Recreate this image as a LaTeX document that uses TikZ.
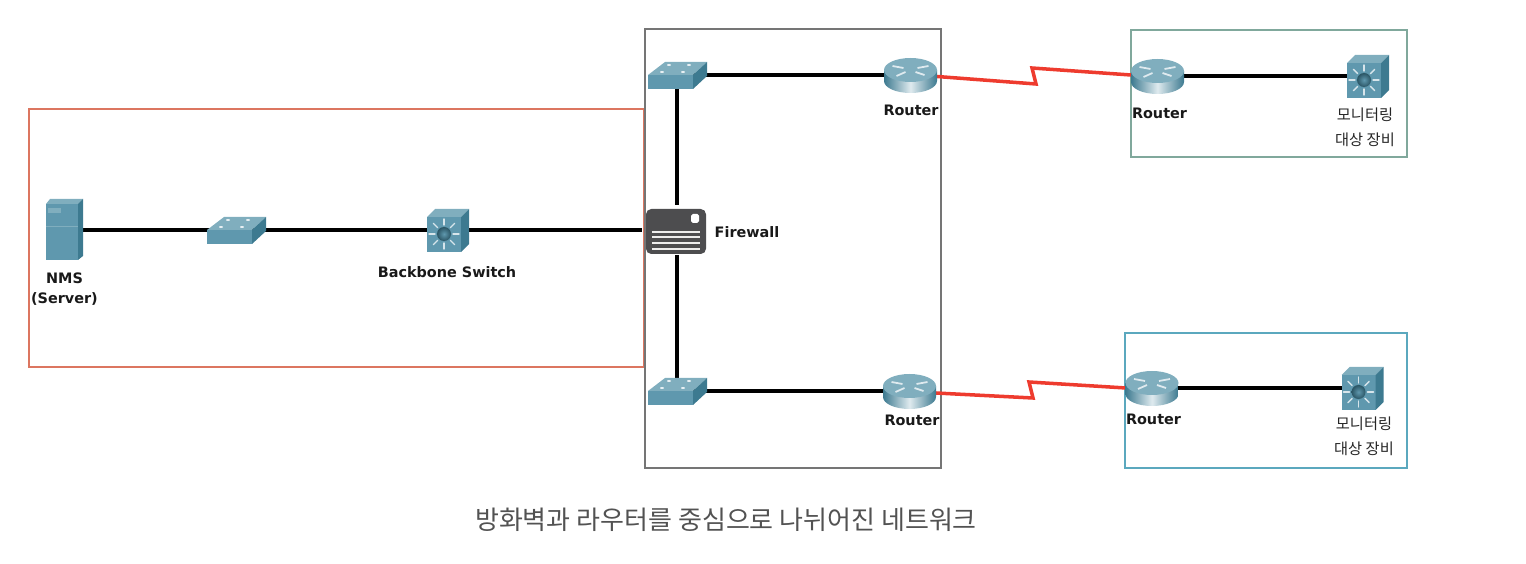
\documentclass[tikz,border=0pt]{standalone}
\usepackage{fontspec}
\setmainfont{DejaVu Sans}
\newfontfamily\krfont{Noto Sans CJK KR}

\definecolor{frontblue}{HTML}{5F98AE}
\definecolor{topblue}{HTML}{80AEBE}
\definecolor{sideblue}{HTML}{3D7A90}
\definecolor{linkred}{HTML}{EE3B2E}
\definecolor{redbox}{HTML}{DC7660}
\definecolor{greybox}{HTML}{757575}
\definecolor{greenbox}{HTML}{80A89C}
\definecolor{cyanbox}{HTML}{5BA8BE}
\definecolor{fwgrey}{HTML}{4D4D4F}

\def\unitpx{0.02cm}

\tikzset{
  slot/.style 2 args={inner sep=0pt,minimum width=#1*\unitpx,minimum height=#2*\unitpx},
  area/.style n args={4}{draw=#1,line width=#4,inner sep=0pt,minimum width=#2*\unitpx,minimum height=#3*\unitpx},
  cable/.style={line width=2.1pt,black},
  wan/.style={line width=2pt,linkred},
  label/.style={font=\bfseries\fontsize{8.2}{11.5}\selectfont,inner sep=0pt,align=center,text=black!90},
  krlabel/.style={font=\krfont\fontsize{8.7}{14}\selectfont,inner sep=0pt,align=center,text=black!85},
  pics/servericon/.style={code={
    \fill[frontblue] (-18,-26) rectangle (14,30);
    \fill[topblue] (-18,-26) -- (-14,-31) -- (19,-31) -- (14,-26) -- cycle;
    \fill[sideblue] (14,-26) -- (19,-31) -- (19,26) -- (14,30) -- cycle;
    \fill[topblue] (-16,-22) rectangle (-3,-17);
    \draw[topblue,line width=0.4pt] (-18,-4) -- (14,-4);
  }},
  pics/switchicon/.style={code={
    \fill[frontblue] (-29,0) rectangle (16,14);
    \fill[topblue] (-29,0) -- (-12,-13) -- (30,-13) -- (16,0) -- cycle;
    \fill[sideblue] (16,0) -- (30,-13) -- (30,1) -- (16,14) -- cycle;
    \foreach \px/\py in {-15/-3,-8/-10,6/-3,12/-10}
      \fill[white!85!frontblue] (\px,\py) circle [x radius=2,y radius=1];
  }},
  pics/coreicon/.style={code={
    \fill[frontblue] (-21,-13) rectangle (13,22);
    \fill[topblue] (-21,-13) -- (-13,-21) -- (21,-21) -- (13,-13) -- cycle;
    \fill[sideblue] (13,-13) -- (21,-21) -- (21,14) -- (13,22) -- cycle;
    \foreach \ang in {0,45,...,315}
      \draw[white!75!frontblue,line width=0.8pt,line cap=round] (-4,4) ++(\ang:9) -- ++(\ang:6);
    \shade[inner color=frontblue,outer color=sideblue!70!black] (-4,4) circle [radius=7];
  }},
  pics/routericon/.style={code={
    \shade[left color=sideblue,right color=sideblue,middle color=white!80!frontblue]
      (-26.5,-5) -- (-26.5,6) arc [start angle=180,end angle=0,x radius=26.5,y radius=12]
      -- (26.5,-5) -- cycle;
    \fill[topblue] (0,-5) ellipse [x radius=26.5,y radius=12];
    \draw[white!80!frontblue,line width=1pt]
      (-18,-9) -- (-7,-7) (18,-9) -- (7,-7) (-14,1) -- (-5,-3) (14,0) -- (5,-3);
  }},
  pics/firewallicon/.style={code={
    \fill[fwgrey,rounded corners=3] (-31,-21) rectangle (29,24);
    \fill[white,rounded corners=1] (14,-16) rectangle (22,-7);
    \foreach \py in {2,7,13,19}
      \draw[white!90!fwgrey,line width=0.9pt] (-25,\py) -- (23,\py);
  }},
}

\begin{document}
\begin{tikzpicture}[x=0.02cm,y=-0.02cm]

\useasboundingbox (0,0) rectangle (1526,564);

\node[slot={10}{10}] (nms) at (64,230) {};
\node[slot={10}{10}] (swa) at (236,230) {};
\node[slot={10}{10}] (core) at (448,230) {};
\node[slot={70}{50}] (fw) at (677,230) {};
\node[slot={10}{10}] (swb) at (677,75) {};
\node[slot={10}{10}] (swc) at (677,391) {};
\node[slot={10}{10}] (rta) at (910.5,75) {};
\node[slot={10}{10}] (rtb) at (909.5,391) {};
\node[slot={10}{10}] (rtc) at (1157.5,76) {};
\node[slot={10}{10}] (rtd) at (1152,388) {};
\node[slot={10}{10}] (corea) at (1368,76) {};
\node[slot={10}{10}] (coreb) at (1362.5,388) {};

\coordinate (ena) at (937,76.5);
\coordinate (enb) at (936,393);
\coordinate (enc) at (1131,75);
\coordinate (end) at (1126,388);
\coordinate (kinka) at (1036,84);
\coordinate (kinkb) at (1032,68);
\coordinate (kinkc) at (1033,398);
\coordinate (kinkd) at (1029,382);

\node[area={redbox}{615}{258}{0.7pt}] (lan) at (336.5,238) {};
\node[area={greybox}{296}{439}{1pt}] (dmz) at (793,248.5) {};
\node[area={greenbox}{276}{127}{1pt}] (sitea) at (1269,93.5) {};
\node[area={cyanbox}{282}{135}{1pt}] (siteb) at (1266,400.5) {};

\draw[cable] (nms) -- (swa);
\draw[cable] (swa) -- (core);
\draw[cable] (core) -- (fw);
\draw[cable] (swb) -- (fw);
\draw[cable] (swc) -- (fw);
\draw[cable] (swb) -- (rta);
\draw[cable] (swc) -- (rtb);
\draw[cable] (rtc) -- (corea);
\draw[cable] (rtd) -- (coreb);

\draw[wan] (ena) -- (kinka) -- (kinkb) -- (enc);
\draw[wan] (enb) -- (kinkc) -- (kinkd) -- (end);

\pic at (nms) {servericon};
\pic at (swa) {switchicon};
\pic at (core) {coreicon};
\pic at (fw) {firewallicon};
\pic at (swb) {switchicon};
\pic at (swc) {switchicon};
\pic at (rta) {routericon};
\pic at (rtb) {routericon};
\pic at (rtc) {routericon};
\pic at (rtd) {routericon};
\pic at (corea) {coreicon};
\pic at (coreb) {coreicon};

\node[label] (nmstext) at (64.5,289) {NMS\\(Server)};
\node[label] (coretext) at (447,272) {Backbone Switch};
\node[label] (fwtext) at (747,232) {Firewall};
\node[label] (rtatext) at (911,110) {Router};
\node[label] (rtbtext) at (912,420) {Router};
\node[label] (rtctext) at (1159.5,113) {Router};
\node[label] (rtdtext) at (1153.5,419) {Router};
\node[krlabel] (coreatext) at (1365,127) {모니터링\\대상 장비};
\node[krlabel] (corebtext) at (1364,436) {모니터링\\대상 장비};

\node[font=\krfont\fontsize{14.8}{16}\selectfont,text=black!68,inner sep=0pt] (caption) at (726,520) {방화벽과 라우터를 중심으로 나뉘어진 네트워크};

\end{tikzpicture}
\end{document}
